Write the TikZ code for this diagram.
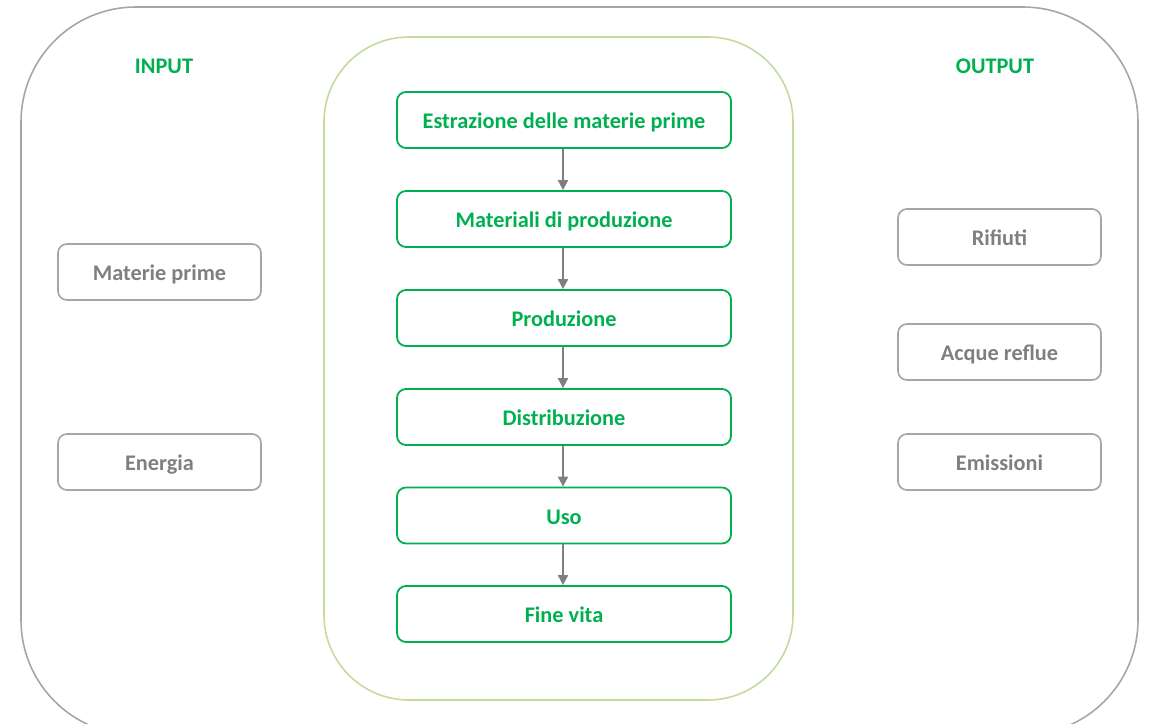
\documentclass[tikz,border=0pt]{standalone}
\usepackage{fontspec}
\setmainfont{Carlito}
\usetikzlibrary{arrows.meta}
\definecolor{leafgreen}{HTML}{00B050}
\definecolor{palegreen}{HTML}{C3DC9E}
\definecolor{midgray}{HTML}{7F7F7F}
\definecolor{linegray}{HTML}{A6A6A6}
\tikzset{
  boxfont/.style={font=\bfseries\fontsize{22.3}{26}\selectfont,
    text height=17pt, text depth=0pt},
  stagebox/.style={draw=leafgreen, line width=1.8pt, rounded corners=9pt,
    minimum width=334pt, minimum height=56pt, text=leafgreen,
    boxfont, inner sep=0pt},
  flowbox/.style={draw=linegray, line width=1.7pt, rounded corners=9pt,
    minimum width=203pt, minimum height=56pt, text=midgray,
    boxfont, inner sep=0pt},
  heading/.style={text=leafgreen, boxfont},
  flowarrow/.style={draw=midgray, line width=2pt,
    -{Triangle[length=10pt,width=10pt]}},
}
\begin{document}
\begin{tikzpicture}[x=1pt,y=-1pt]
\useasboundingbox (0,0) rectangle (1150,723);
% outer frame and central lifecycle panel
\draw[linegray, line width=1.6pt, rounded corners=115pt] (21,7) rectangle (1138,735);
\draw[palegreen, line width=1.6pt, rounded corners=85pt] (324,37) rectangle (793,700);
% headings
\node[heading] (inp) at (164,65) {INPUT};
\node[heading] (outp) at (995,65) {OUTPUT};
% lifecycle stages
\node[stagebox] (s1) at (564,120) {Estrazione delle materie prime};
\node[stagebox] (s2) at (564,219) {Materiali di produzione};
\node[stagebox] (s3) at (564,318) {Produzione};
\node[stagebox] (s4) at (564,417) {Distribuzione};
\node[stagebox] (s5) at (564,515.5) {Uso};
\node[stagebox] (s6) at (564,614) {Fine vita};
\foreach \a/\b in {s1/s2,s2/s3,s3/s4,s4/s5,s5/s6}
  \draw[flowarrow] ([xshift=-1pt]\a.south) -- ([xshift=-1pt]\b.north);
% inputs
\node[flowbox] (m1) at (159.5,272) {Materie prime};
\node[flowbox] (m2) at (159.5,462) {Energia};
% outputs
\node[flowbox] (o1) at (999.5,237) {Rifiuti};
\node[flowbox] (o2) at (999.5,352) {Acque reflue};
\node[flowbox] (o3) at (999.5,462) {Emissioni};
\end{tikzpicture}
\end{document}
